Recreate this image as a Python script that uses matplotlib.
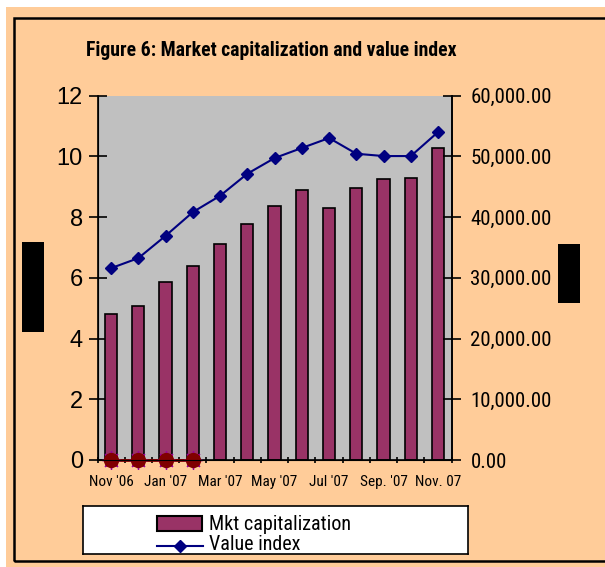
import matplotlib
matplotlib.use("Agg")
import matplotlib.pyplot as plt
import numpy as np
from matplotlib.patches import Rectangle
from matplotlib.lines import Line2D
from matplotlib.ticker import FuncFormatter, FixedLocator, NullFormatter

# ---- data ----
months = ["Nov '06", "Dec '06", "Jan '07", "Feb '07", "Mar '07", "Apr '07", "May '07",
          "Jun '07", "Jul '07", "Aug '07", "Sep. '07", "Oct. '07", "Nov. 07"]
tick_labels = ["Nov '06", "Jan '07", "Mar '07", "May '07", "Jul '07", "Sep. '07", "Nov. 07"]
mkt_cap = [4.8, 5.08, 5.87, 6.39, 7.12, 7.78, 8.36, 8.9, 8.31, 8.97, 9.24, 9.29, 10.29]
value_index = [31600, 33250, 36930, 40830, 43520, 47150, 49730, 51390, 53030, 50440, 50060, 50060, 54020]
extra_series = [0, 0, 0, 0]

W, H = 605, 567
fig = plt.figure(figsize=(W / 100, H / 100), dpi=100, facecolor="white")

narrow = ["Roboto Condensed", "Liberation Sans", "DejaVu Sans"]
arial = ["Liberation Sans", "DejaVu Sans"]

def fx(px):
    return px / W

def fy(py):
    return 1 - py / H

# peach background and black frame
fig.patches.append(Rectangle((fx(6), 0), 1, fy(7), transform=fig.transFigure,
                             facecolor="#FFCC99", edgecolor="none", zorder=-10))
fig.patches.append(Rectangle((fx(14), fy(561)), 1.2, fy(18) - fy(561), transform=fig.transFigure,
                             facecolor="none", edgecolor="black", lw=1.8, zorder=-5))
# black blocks
fig.patches.append(Rectangle((fx(22), fy(332)), fx(22), fy(242) - fy(332), transform=fig.transFigure,
                             facecolor="black", edgecolor="none"))
fig.patches.append(Rectangle((fx(558), fy(303)), fx(22), fy(244) - fy(303), transform=fig.transFigure,
                             facecolor="black", edgecolor="none"))

x0, x1, yt, yb = 97.5, 451.7, 95.7, 460
ax = fig.add_axes([fx(x0), fy(yb), fx(x1 - x0), fy(yt) - fy(yb)])
ax.set_facecolor("#C0C0C0")
x = np.arange(len(months))
ax.bar(x, mkt_cap, width=0.45, color="#993366", edgecolor="black", linewidth=1.2, zorder=2)
ax.set_xlim(-0.5, len(months) - 0.5)
ax.set_ylim(0, 12)
ax.set_yticks(np.arange(0, 13, 2))
ax.tick_params(axis="y", direction="inout", length=13, width=1.2, labelsize=17, pad=4)
for lab in ax.get_yticklabels():
    lab.set_fontfamily(arial)

ax.xaxis.set_major_locator(FixedLocator(x[::2]))
ax.set_xticklabels(tick_labels, fontfamily=narrow, fontsize=11)
ax.xaxis.set_minor_locator(FixedLocator(np.arange(-0.5, len(months), 1.0)))
ax.xaxis.set_minor_formatter(NullFormatter())
ax.tick_params(axis="x", which="major", length=0, pad=11)
ax.tick_params(axis="x", which="minor", direction="inout", length=5, width=1.2)
ax.spines["top"].set_visible(False)
for s in ["left", "bottom", "right"]:
    ax.spines[s].set_linewidth(1.2)

# zero-valued series markers
xe = np.arange(len(extra_series))
ax.plot(xe, extra_series, color="#800000", lw=2, zorder=4, clip_on=False)
ax.plot(xe, extra_series, linestyle="none", marker=(8, 2, 0), markersize=13,
        markeredgecolor="#990099", markeredgewidth=1.0, zorder=4, clip_on=False)
ax.plot(xe, extra_series, linestyle="none", marker="o", markersize=10,
        color="#800000", zorder=5, clip_on=False)

ax2 = ax.twinx()
ax2.plot(x, value_index, color="#000080", lw=1.5, marker="D", markersize=6.5, zorder=3)
ax2.set_ylim(0, 60000)
ax2.set_yticks(np.arange(0, 60001, 10000))
ax2.yaxis.set_major_formatter(FuncFormatter(lambda v, p: f"{v:,.2f}"))
ax2.tick_params(axis="y", direction="inout", length=13, width=1.2, labelsize=15, pad=7)
for lab in ax2.get_yticklabels():
    lab.set_fontfamily(narrow)
ax2.spines["top"].set_visible(False)
ax2.spines["right"].set_linewidth(1.2)

fig.text(fx(271.5), fy(50), "Figure 6: Market capitalization and value index",
         ha="center", va="center", fontsize=14.2, fontweight="bold", fontfamily=narrow)

# legend box
lax = fig.add_axes([fx(83), fy(554), fx(468 - 83), fy(506) - fy(554)])
lax.set_xlim(83, 468)
lax.set_ylim(554, 506)
lax.set_xticks([])
lax.set_yticks([])
lax.set_facecolor("white")
for s in lax.spines.values():
    s.set_linewidth(1.2)
lax.add_patch(Rectangle((157, 516), 45, 15, facecolor="#993366", edgecolor="black", lw=1.5))
lax.add_line(Line2D([157, 203], [546, 546], color="#000080", lw=1.5))
lax.plot([180], [546], marker="D", color="#000080", markersize=6)
lax.text(209, 524, "Mkt capitalization", ha="left", va="center", fontsize=14.5, fontfamily=narrow)
lax.text(209, 545, "Value index", ha="left", va="center", fontsize=14.5, fontfamily=narrow, clip_on=True)

fig.savefig("out.png", dpi=100, facecolor=fig.get_facecolor())
